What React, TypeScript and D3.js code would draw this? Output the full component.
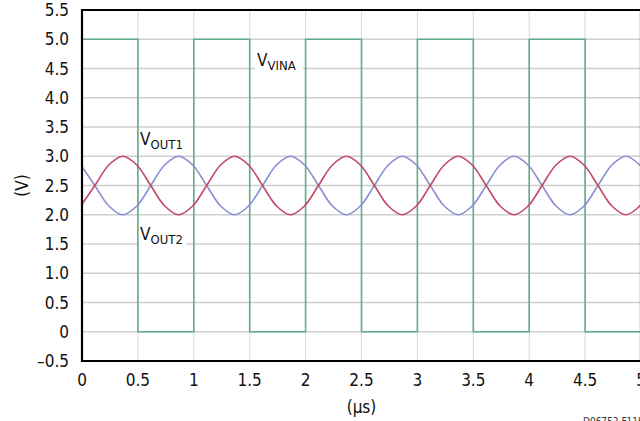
import React from "react";
import * as d3 from "d3";

const W = 640;
const H = 421;

// x ticks (µs) and y ticks (V)
const xTicks = [0, 0.5, 1, 1.5, 2, 2.5, 3, 3.5, 4, 4.5, 5];
const xTickLabels = ["0", "0.5", "1", "1.5", "2", "2.5", "3", "3.5", "4", "4.5", "5"];
const yTicks = [-0.5, 0, 0.5, 1, 1.5, 2, 2.5, 3, 3.5, 4, 4.5, 5, 5.5];
const yTickLabels = ["–0.5", "0", "0.5", "1.0", "1.5", "2.0", "2.5", "3.0", "3.5", "4.0", "4.5", "5.0", "5.5"];

// VINA square wave (step-after)
const vinaTime = [0, 0.5, 1, 1.5, 2, 2.5, 3, 3.5, 4, 4.5, 5];
const vinaVolt = [5, 0, 5, 0, 5, 0, 5, 0, 5, 0, 0];

// sampled sine outputs
const outTime = [
  0, 0.115, 0.24, 0.365, 0.49, 0.615, 0.74, 0.865, 0.99,
  1.115, 1.24, 1.365, 1.49, 1.615, 1.74, 1.865, 1.99,
  2.115, 2.24, 2.365, 2.49, 2.615, 2.74, 2.865, 2.99,
  3.115, 3.24, 3.365, 3.49, 3.615, 3.74, 3.865, 3.99,
  4.115, 4.24, 4.365, 4.49, 4.615, 4.74, 4.865, 5.0,
];
const vout2 = [
  2.18, 2.5, 2.85, 3.0, 2.85, 2.5, 2.15, 2.0, 2.15,
  2.5, 2.85, 3.0, 2.85, 2.5, 2.15, 2.0, 2.15,
  2.5, 2.85, 3.0, 2.85, 2.5, 2.15, 2.0, 2.15,
  2.5, 2.85, 3.0, 2.85, 2.5, 2.15, 2.0, 2.15,
  2.5, 2.85, 3.0, 2.85, 2.5, 2.15, 2.0, 2.17,
];
const vout1 = [
  2.82, 2.5, 2.15, 2.0, 2.15, 2.5, 2.85, 3.0, 2.85,
  2.5, 2.15, 2.0, 2.15, 2.5, 2.85, 3.0, 2.85,
  2.5, 2.15, 2.0, 2.15, 2.5, 2.85, 3.0, 2.85,
  2.5, 2.15, 2.0, 2.15, 2.5, 2.85, 3.0, 2.85,
  2.5, 2.15, 2.0, 2.15, 2.5, 2.85, 3.0, 2.83,
];

const FONT = "'Liberation Sans Narrow', 'DejaVu Sans Condensed', 'Roboto', sans-serif";

export default function App() {
  const x = d3.scaleLinear().domain([0, 5]).range([82, 641]);
  const y = d3.scaleLinear().domain([-0.5, 5.5]).range([361, 10]);

  const sq = d3
    .line<number>()
    .x((_, i) => x(vinaTime[i]))
    .y((d) => y(d))
    .curve(d3.curveStepAfter)(vinaVolt) as string;

  const mk = (vals: number[]) =>
    d3
      .line<number>()
      .x((_, i) => x(outTime[i]))
      .y((d) => y(d))
      .curve(d3.curveCatmullRom)(vals) as string;

  const gridH = yTicks.filter((v) => v > -0.5 && v < 5.5);
  const gridV = xTicks.filter((v) => v > 0 && v < 5);

  const Label = ({ x0, y0, main, sub, w }: { x0: number; y0: number; main: string; sub: string; w: number }) => (
    <g>
      <rect x={x0 - 2} y={y0 - 15} width={w} height={22} fill="#fff" />
      <text x={x0} y={y0} fontSize={17} fontFamily={FONT} fill="#111">
        {main}
        <tspan fontSize={13} dy={4}>{sub}</tspan>
      </text>
    </g>
  );

  return (
    <svg width={W} height={H} style={{ position: "absolute", left: 0, top: 0, background: "#fff" }}>
      <defs>
        <clipPath id="plot">
          <rect x={82} y={10} width={559} height={351} />
        </clipPath>
      </defs>
      {gridH.map((v) => (
        <line key={"h" + v} x1={82} x2={641} y1={y(v)} y2={y(v)} stroke="#cfcfcf" strokeWidth={1.4} />
      ))}
      {gridV.map((v) => (
        <line key={"v" + v} x1={x(v)} x2={x(v)} y1={10} y2={361} stroke="#dedede" strokeWidth={1.2} />
      ))}
      <Label x0={257} y0={66} main="V" sub="VINA" w={48} />
      <Label x0={140} y0={145} main="V" sub="OUT1" w={48} />
      <Label x0={140} y0={240} main="V" sub="OUT2" w={48} />
      <g clipPath="url(#plot)">
        <path d={sq} fill="none" stroke="#5fae87" strokeWidth={1.6} />
        <path d={mk(vout1)} fill="none" stroke="#8a8fd0" strokeWidth={1.6} />
        <path d={mk(vout2)} fill="none" stroke="#c04a66" strokeWidth={1.6} />
      </g>
      <line x1={82} x2={82} y1={9} y2={362} stroke="#000" strokeWidth={2.2} />
      <line x1={81} x2={641} y1={10} y2={10} stroke="#000" strokeWidth={2.2} />
      <line x1={81} x2={641} y1={361} y2={361} stroke="#000" strokeWidth={2.2} />
      <line x1={641} x2={641} y1={9} y2={362} stroke="#000" strokeWidth={2.2} />
      {yTicks.map((v, i) => (
        <text key={"yl" + v} x={69} y={y(v) + 6} textAnchor="end" fontSize={17} fontFamily={FONT} fill="#111">
          {yTickLabels[i]}
        </text>
      ))}
      {xTicks.map((v, i) => (
        <text key={"xl" + v} x={x(v)} y={386} textAnchor="middle" fontSize={17} fontFamily={FONT} fill="#111">
          {xTickLabels[i]}
        </text>
      ))}
      <text x={x(2.5)} y={413} textAnchor="middle" fontSize={17} fontFamily={FONT} fill="#111">
        (µs)
      </text>
      <text
        transform={`translate(28,${y(2.5)}) rotate(-90)`}
        textAnchor="middle"
        fontSize={17}
        fontFamily={FONT}
        fill="#111"
      >
        (V)
      </text>
      <text x={583} y={425} fontSize={10} fontFamily={FONT} fill="#333">
        D06752 F11b
      </text>
    </svg>
  );
}
